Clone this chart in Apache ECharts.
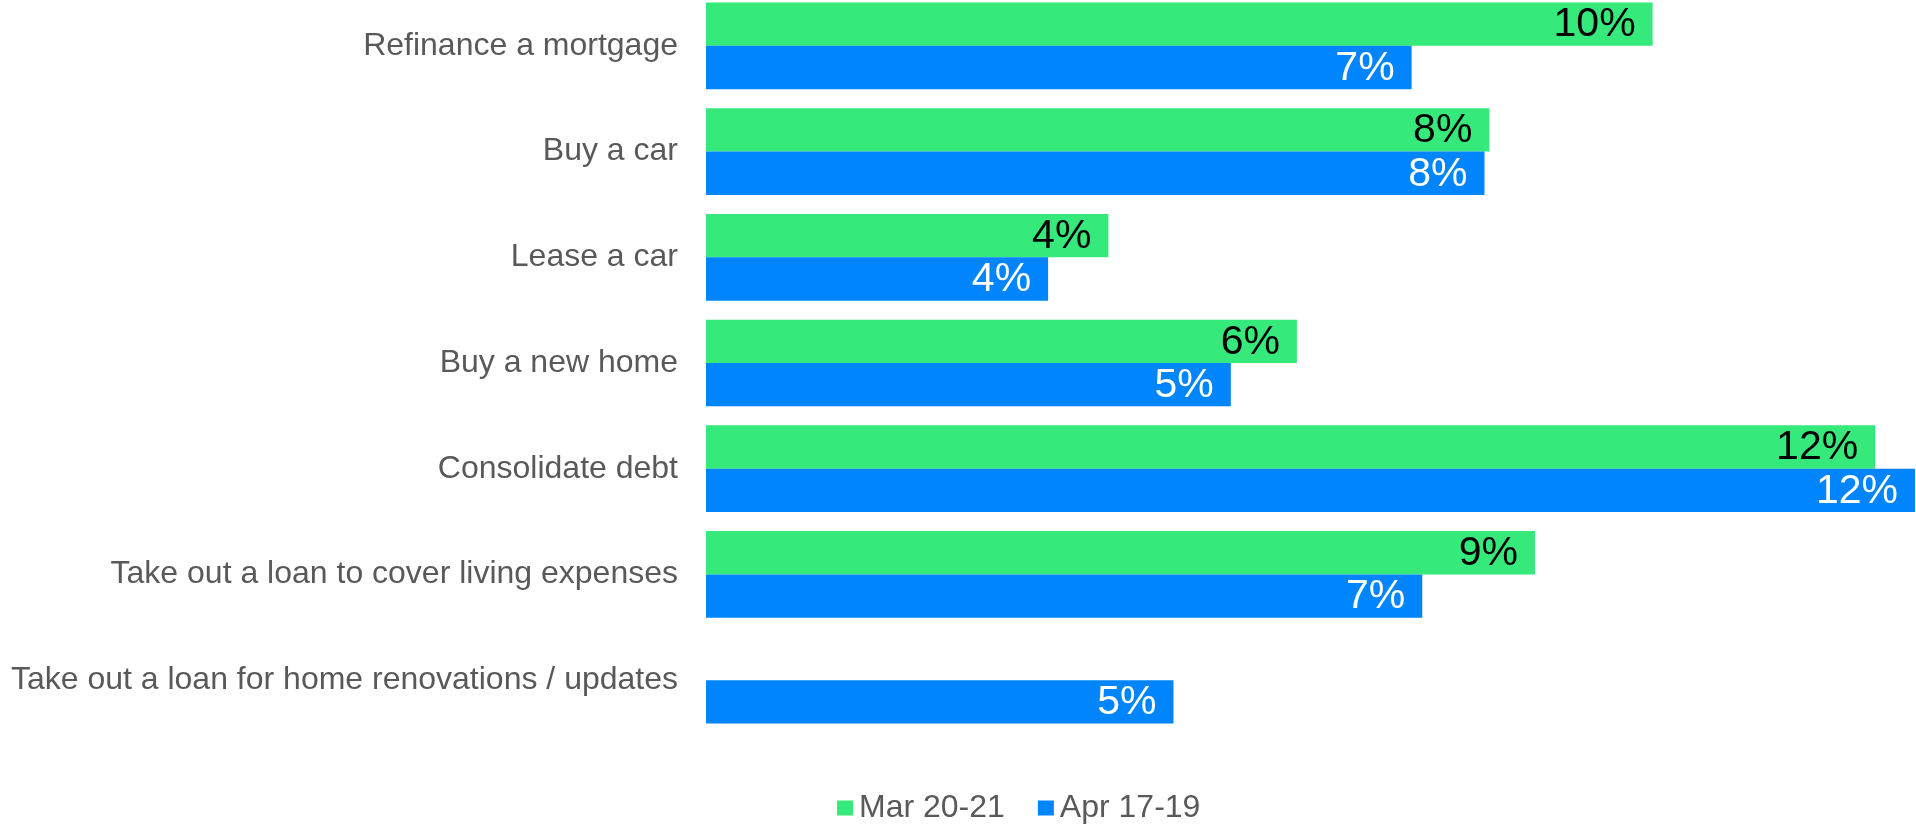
<!DOCTYPE html>
<html>
<head>
<meta charset="utf-8">
<script src="https://cdn.jsdelivr.net/npm/echarts@6/dist/echarts.min.js"></script>
<style>
  html, body { margin: 0; padding: 0; background: #fff; overflow: hidden; }
  /* chart starts a little above the page so the first bar touches the top */
  #chart { position: absolute; left: 0; top: -7px; width: 1916px; height: 832px; }
</style>
</head>
<body>
<div id="chart"></div>
<script>
// categories, top to bottom
const categories = [
    "Refinance a mortgage",
    "Buy a car",
    "Lease a car",
    "Buy a new home",
    "Consolidate debt",
    "Take out a loan to cover living expenses",
    "Take out a loan for home renovations / updates"
];
const seriesNames = ["Mar 20-21", "Apr 17-19"];
// percent values
const marValues = [9.74, 8.06, 4.14, 6.08, 12.03, 8.53, null];
const aprValues = [7.26, 8.01, 3.52, 5.40, 12.44, 7.37, 4.81];

const FONT = "'Liberation Sans', Arial, sans-serif";

const myChart = echarts.init(document.getElementById("chart"));
const option = {
    animation: false,
    textStyle: { fontFamily: FONT },
    legend: {
        left: 837,
        top: 799,
        padding: 0,
        icon: "rect",
        itemWidth: 16,
        itemHeight: 15,
        itemGap: 33,
        textStyle: {
            fontFamily: FONT,
            fontSize: 32,
            color: "#595959",
            padding: [0, 0, 0, 1]
        },
        data: seriesNames
    },
    grid: {
        left: 706,
        right: 0,
        top: 0,
        height: 740,
        containLabel: false
    },
    xAxis: {
        type: "value",
        min: 0,
        max: 12.45,
        show: false
    },
    yAxis: {
        type: "category",
        inverse: true,
        data: categories,
        axisLine: { show: false },
        axisTick: { show: false },
        splitLine: { show: false },
        axisLabel: {
            fontFamily: FONT,
            fontSize: 32,
            color: "#595959",
            margin: 28,
            padding: [4, 0, 0, 0]
        }
    },
    series: [
        {
            name: seriesNames[0],
            type: "bar",
            data: marValues,
            barGap: "0%",
            barCategoryGap: "18%",
            itemStyle: { color: "#35E97A" },
            label: {
                show: true,
                position: "insideRight",
                distance: 17,
                offset: [0, 1],
                fontFamily: FONT,
                fontSize: 41,
                color: "#000000",
                formatter: p => Math.round(p.value) + "%"
            }
        },
        {
            name: seriesNames[1],
            type: "bar",
            data: aprValues,
            barGap: "0%",
            barCategoryGap: "18%",
            itemStyle: { color: "#0085FF" },
            label: {
                show: true,
                position: "insideRight",
                distance: 17,
                offset: [0, 1],
                fontFamily: FONT,
                fontSize: 41,
                color: "#ffffff",
                formatter: p => Math.round(p.value) + "%"
            }
        }
    ]
};
myChart.setOption(option);
</script>
</body>
</html>
